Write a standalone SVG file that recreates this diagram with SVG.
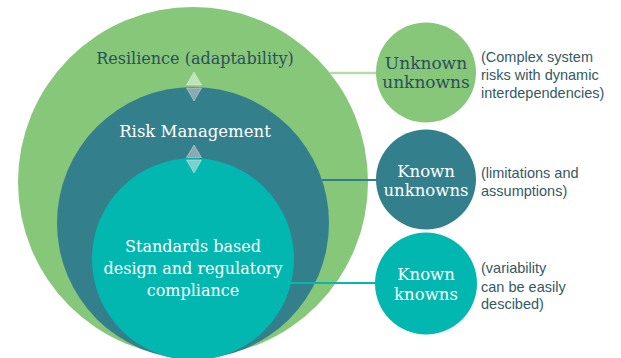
<svg xmlns="http://www.w3.org/2000/svg" width="621" height="358" viewBox="0 0 621 358">
<defs>
<style>
.serif{font-family:"DejaVu Serif","Liberation Serif",serif;text-anchor:middle}
.desc{font-family:"Liberation Sans",Arial,sans-serif;font-size:14.5px;fill:#355964}
.dark{fill:#2c4f5a}
.light{fill:#ffffff}
.tri{stroke:#ffffff;stroke-opacity:0.35;stroke-width:1}
</style>
</defs>
<rect width="621" height="358" fill="#ffffff"/>
<g id="resilience">
<circle cx="193" cy="182" r="175" fill="#86c77a"/>
<text class="serif dark" x="195" y="64" font-size="16">Resilience (adaptability)</text>
</g>
<g id="risk-management">
<circle cx="193" cy="223" r="136" fill="#347f8c"/>
<text class="serif light" x="195" y="137" font-size="16.5">Risk Management</text>
</g>
<g id="standards">
<circle cx="193" cy="259" r="101" fill="#03b7b1"/>
<text class="serif light" x="193" y="252" font-size="16">Standards based</text>
<text class="serif light" x="193" y="274" font-size="16">design and regulatory</text>
<text class="serif light" x="193" y="296" font-size="16">compliance</text>
</g>
<g id="connectors">
<line x1="330" y1="73" x2="378" y2="73" stroke="#b6dca5" stroke-width="2.5"/>
<line x1="322" y1="180" x2="378" y2="180" stroke="#347d8a" stroke-width="2"/>
<line x1="291" y1="283" x2="378" y2="283" stroke="#08b6b0" stroke-width="2"/>
</g>
<g id="arrows">
<polygon class="tri" points="194,72 201.5,85 186.5,85" fill="#c0e2b8"/>
<polygon class="tri" points="186.5,88 201.5,88 194,101" fill="#8aa9b0"/>
<polygon class="tri" points="194,145 201.5,157.5 186.5,157.5" fill="#8aa9b0"/>
<polygon class="tri" points="186.5,160 201.5,160 194,173" fill="#7dcfcb"/>
</g>
<g id="unknown-unknowns">
<circle cx="426" cy="72.5" r="50" fill="#86c77a"/>
<text class="serif dark" x="426" y="69" font-size="17">Unknown</text>
<text class="serif dark" x="426" y="88" font-size="17">unknowns</text>
<text class="desc" x="481" y="61.5">(Complex system</text>
<text class="desc" x="481" y="80">risks with dynamic</text>
<text class="desc" x="481" y="97.5">interdependencies)</text>
</g>
<g id="known-unknowns">
<circle cx="426" cy="179.5" r="50" fill="#347f8c"/>
<text class="serif light" x="426" y="177" font-size="16.5">Known</text>
<text class="serif light" x="426" y="196" font-size="16.5">unknowns</text>
<text class="desc" x="481" y="178">(limitations and</text>
<text class="desc" x="481" y="196">assumptions)</text>
</g>
<g id="known-knowns">
<circle cx="426" cy="283.5" r="51" fill="#03b7b1"/>
<text class="serif light" x="426" y="280" font-size="16.5">Known</text>
<text class="serif light" x="426" y="300" font-size="16.5">knowns</text>
<text class="desc" x="481" y="273">(variability</text>
<text class="desc" x="481" y="292">can be easily</text>
<text class="desc" x="481" y="309">descibed)</text>
</g>
</svg>
